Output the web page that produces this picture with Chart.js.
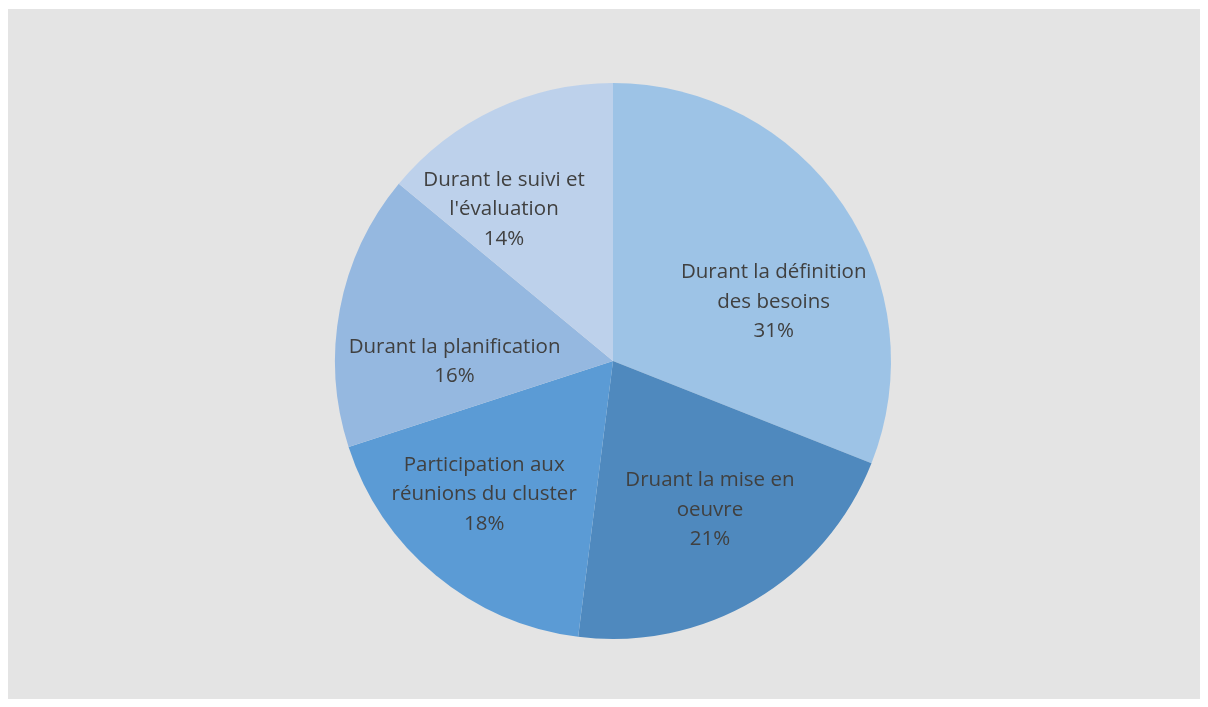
<!DOCTYPE html>
<html>
<head>
<meta charset="utf-8">
<script src="https://cdn.jsdelivr.net/npm/chart.js@4"></script>
<style>
  html, body { margin: 0; padding: 0; background: #ffffff; }
  #panel { position: absolute; left: 8px; top: 9px; width: 1192px; height: 690px; background: #e4e4e4; }
</style>
</head>
<body>
<div id="panel"><canvas id="pieChart" width="1192" height="690"></canvas></div>
<script>
const categories = [
  ["Durant la définition", "des besoins"],
  ["Druant la mise en", "oeuvre"],
  ["Participation aux", "réunions du cluster"],
  ["Durant la planification"],
  ["Durant le suivi et", "l'évaluation"],
];
const shares = [31, 21, 18, 16, 14];
const sliceColors = ["#9dc3e6", "#4f89be", "#5b9bd5", "#95b8e0", "#bdd1eb"];

// label placement: angle shift from slice middle (deg) and fraction of radius
const labelShift = [13, -3, 5, -10, -10];
const labelRadius = [0.62, 0.63, 0.66, 0.57, 0.68];

const sliceLabels = {
  id: "sliceLabels",
  afterDatasetsDraw(chart) {
    const ctx = chart.ctx;
    const arcs = chart.getDatasetMeta(0).data;
    ctx.save();
    ctx.font = "20.5px 'Open Sans'";
    ctx.fillStyle = "#404040";
    ctx.textAlign = "center";
    ctx.textBaseline = "middle";
    arcs.forEach((arc, i) => {
      const p = arc.getProps(["x", "y", "startAngle", "endAngle", "outerRadius"], true);
      const mid = (p.startAngle + p.endAngle) / 2 + labelShift[i] * Math.PI / 180;
      const r = p.outerRadius * labelRadius[i];
      const cx = p.x + Math.cos(mid) * r;
      const cy = p.y + Math.sin(mid) * r + 3;
      const lines = categories[i].concat([shares[i] + "%"]);
      const lh = 29.5;
      const top = cy - (lines.length - 1) * lh / 2;
      lines.forEach((t, j) => ctx.fillText(t, cx, top + j * lh));
    });
    ctx.restore();
  },
};

new Chart(document.getElementById("pieChart"), {
  type: "pie",
  data: {
    labels: categories.map((c) => c.join(" ")),
    datasets: [{ data: shares, backgroundColor: sliceColors, borderWidth: 0 }],
  },
  options: {
    responsive: false,
    animation: false,
    layout: { padding: { top: 74, bottom: 60, left: 18, right: 0 } },
    plugins: { legend: { display: false }, tooltip: { enabled: false } },
  },
  plugins: [sliceLabels],
});
</script>
</body>
</html>
